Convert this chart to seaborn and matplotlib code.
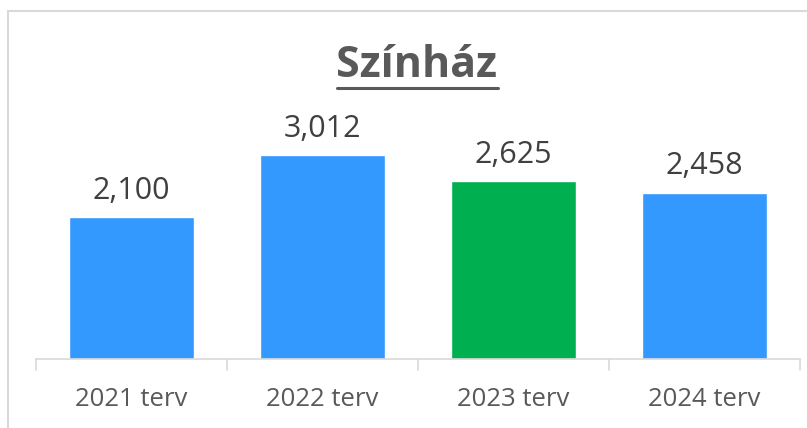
import matplotlib
matplotlib.use("Agg")
import matplotlib.pyplot as plt
from matplotlib.lines import Line2D
from matplotlib.patches import Rectangle
from matplotlib.transforms import blended_transform_factory
import seaborn as sns
import pandas as pd

categories = ["2021 terv", "2022 terv", "2023 terv", "2024 terv"]
values = [2100, 3012, 2625, 2458]
value_labels = ["2,100", "3,012", "2,625", "2,458"]
colors = ["#3399FF", "#3399FF", "#00B050", "#3399FF"]
title = "Színház"

sns.set_theme(style="white")
plt.rcParams["font.family"] = ["Open Sans", "DejaVu Sans"]

df = pd.DataFrame({"cat": categories, "val": values})

fig = plt.figure(figsize=(8.07, 4.28), dpi=100)
ax = fig.add_axes([36/807, (428-359)/428, (800-36)/807, (359-100)/428])
sns.barplot(data=df, x="cat", y="val", hue="cat", palette=colors, legend=False,
            width=0.65, ax=ax, saturation=1)
ax.set_ylim(0, 259/0.0677)
ax.set_xlim(-0.5, 3.5)
ax.set_xlabel("")
ax.set_ylabel("")
ax.set_yticks([])
for s in ["top", "right", "left"]:
    ax.spines[s].set_visible(False)
ax.spines["bottom"].set_color("#D9D9D9")
ax.spines["bottom"].set_linewidth(1.2)
ax.set_xticks([0, 1, 2, 3])
ax.set_xticklabels(categories, fontsize=18.5, color="#595959")
ax.tick_params(axis="x", length=0, pad=20)

tr = blended_transform_factory(ax.transData, ax.transAxes)
for xb in [-0.5, 0.5, 1.5, 2.5, 3.5]:
    ax.add_line(Line2D([xb, xb], [0, -11/259], transform=tr, color="#D9D9D9",
                       lw=1.2, clip_on=False))

for i, (v, lab) in enumerate(zip(values, value_labels)):
    ax.annotate(lab, (i, v), xytext=(0, 8), textcoords="offset points",
                ha="center", va="bottom", fontsize=22, color="#404040")

t = fig.text(417/807, 1 - 77/428, title, ha="center", va="baseline",
             fontsize=31, fontweight="bold", color="#595959")
fig.canvas.draw()
bb = t.get_window_extent(fig.canvas.get_renderer())
uy = (428 - 88) / 428
fig.add_artist(Line2D([bb.x0/807, bb.x1/807], [uy, uy], color="#595959", lw=2.2))

fig.add_artist(Rectangle((8/807, -0.1), 1.2, 1.1 - 11/428, fill=False,
                         edgecolor="#D9D9D9", lw=1.5, transform=fig.transFigure))
fig.savefig("out.png", dpi=100)
